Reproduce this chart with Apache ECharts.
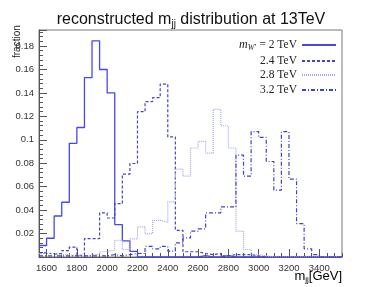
<!DOCTYPE html>
<html><head><meta charset="utf-8">
<script src="https://cdn.jsdelivr.net/npm/echarts@6/dist/echarts.min.js"></script>
<style>html,body{margin:0;padding:0;background:#fff}#c{width:382px;height:287px}</style>
</head><body><div id="c"></div>
<script>
// lower edges of the 50 GeV bins, last entry = upper edge of last bin
const binEdges = [1550,1600,1650,1700,1750,1800,1850,1900,1950,2000,2050,2100,2150,2200,2250,2300,2350,2400,2450,2500,
  2550,2600,2650,2700,2750,2800,2850,2900,2950,3000,3050,3100,3150,3200,3250,3300,3350,3400,3450,3500,3550];
const seriesNames = ['2 TeV','2.4 TeV','2.8 TeV','3.2 TeV'];
const frac2000 = [0.0098,0.016,0.035,0.0467,0.097,0.1105,0.153,0.1845,0.160,0.140,0.0277,0.0138,0.0048,0,0,0,0,0,0,0,
  0,0.0012,0,0,0.0012,0,0,0,0,0,0,0,0,0,0,0,0,0,0,0];
const frac2400 = [0.0035,0.0025,0.003,0.0055,0.0085,0.0015,0.0157,0.0157,0.0376,0.0333,0.0455,0.0708,0.0798,0.124,0.1326,0.136,0.1476,0.1025,0.0228,0.0045,
  0.0045,0.003,0.002,0.003,0.001,0.002,0.002,0.002,0.001,0,0,0,0,0,0,0,0,0,0,0];
const frac2800 = [0.003,0.003,0.002,0.002,0.001,0.0005,0.002,0.002,0.0045,0.006,0.0143,0.0064,0.0155,0.0257,0.020,0.0313,0.0296,0.047,0.075,0.069,
  0.093,0.0986,0.0887,0.126,0.112,0.093,0.022,0.0064,0.002,0.001,0,0,0,0,0,0,0,0,0,0];
const frac3200 = [0.001,0.001,0.001,0.001,0.001,0.001,0.001,0.001,0.001,0.002,0.001,0.002,0.003,0.003,0.009,0.007,0.009,0.005,0.012,0.0163,
  0.022,0.024,0.0376,0.0376,0.0427,0.0427,0.087,0.069,0.107,0.102,0.0815,0.057,0.107,0.0665,0.0285,0.007,0.002,0,0,0];
const xTickLabels = [1600,1800,2000,2200,2400,2600,2800,3000,3200,3400];

function histPoints(vals){
  const pts = vals.map((v,i)=>[binEdges[i], v]);
  pts.push([binEdges[vals.length], vals[vals.length-1]]);
  return pts;
}
const styles = [
  {color:'#4646f5', type:'solid', width:1.3},
  {color:'#4444c8', type:[3,2], width:1.2},
  {color:'#a8a8ea', type:[1,1], width:1.2},
  {color:'#4040d2', type:[4,2,1,2], width:1.2}
];
const allData = [frac2000, frac2400, frac2800, frac3200];
const legendTops = [39, 55, 69, 84];
const chart = echarts.init(document.getElementById('c'), null, {renderer:'canvas'});
const rich = {
  i:{fontFamily:'Liberation Serif',fontStyle:'italic',fontSize:12,color:'#222'},
  s:{fontFamily:'Liberation Serif',fontStyle:'italic',fontSize:8,color:'#222',padding:[5,0,0,0]},
  t:{fontFamily:'Liberation Serif',fontSize:11.5,color:'#222'}
};
chart.setOption({
  animation:false,
  title:{text:'reconstructed m{s|jj} distribution at 13TeV', left:'center', top:5,
    textStyle:{fontFamily:'Liberation Sans',fontSize:16,fontWeight:'normal',color:'#111',
      rich:{s:{fontFamily:'Liberation Sans',fontSize:10,color:'#111',padding:[9,0,0,0]}}}},
  grid:{left:39,right:40,top:30,bottom:30,show:true,borderColor:'#777',borderWidth:1},
  legend: seriesNames.map((n,k)=>({
    data:[n], orient:'vertical', right:45, top:legendTops[k], align:'right',
    itemWidth:34, itemHeight:10, itemGap:4, padding:0,
    itemStyle:{opacity:0},
    formatter: k===0 ? '{i|m}{s|W\'} {t|= 2 TeV}' : '{t|'+n+'}',
    textStyle:{rich}
  })),
  xAxis:[{
    type:'value', min:1550, max:3550, position:'bottom',
    axisLine:{show:true,lineStyle:{color:'#555',width:1}},
    axisTick:{show:true,inside:true,length:8,customValues:xTickLabels,lineStyle:{color:'#555'}},
    axisLabel:{customValues:xTickLabels,fontFamily:'Liberation Sans',fontSize:9.5,color:'#333',margin:6,
      formatter:v=>String(v)},
    splitLine:{show:false}
  },{
    type:'value', min:1550, max:3550, interval:50, position:'bottom',
    axisLine:{show:false},
    axisTick:{show:true,inside:true,length:4,lineStyle:{color:'#555'}},
    axisLabel:{show:false}, splitLine:{show:false}
  }],
  yAxis:{
    type:'value', min:0, max:0.1937, interval:0.02,
    axisLine:{show:true,lineStyle:{color:'#555',width:1}},
    axisTick:{show:true,inside:true,length:8,lineStyle:{color:'#555'}},
    minorTick:{show:true,splitNumber:5,length:4,lineStyle:{color:'#555'}},
    axisLabel:{fontFamily:'Liberation Sans',fontSize:9.5,color:'#333',margin:5,
      formatter:v=>{ const r=Math.round(v*100); if(r===0||Math.abs(v*100-r)>1e-6) return ''; return String(r/100);} },
    splitLine:{show:false}
  },
  graphic:[
    {type:'text', x:12, y:58, rotation:Math.PI/2,
      style:{text:'fraction', font:'10px "Liberation Sans"', fill:'#222', textAlign:'left', textVerticalAlign:'top'}},
    {type:'text', right:40, top:270,
      style:{text:'{m|m}{s|jj}{m|[GeV]}', rich:{
        m:{fontFamily:'Liberation Sans',fontSize:13,color:'#222'},
        s:{fontFamily:'Liberation Sans',fontSize:8,color:'#222',padding:[7,0,0,0]}}}}
  ],
  series: seriesNames.map((n,k)=>({
    name:n, type:'line', step:'end', symbol:'none', xAxisIndex:0,
    data:histPoints(allData[k]),
    lineStyle:{color:styles[k].color, type:styles[k].type, width:styles[k].width},
    itemStyle:{color:styles[k].color}
  }))
});
</script></body></html>
